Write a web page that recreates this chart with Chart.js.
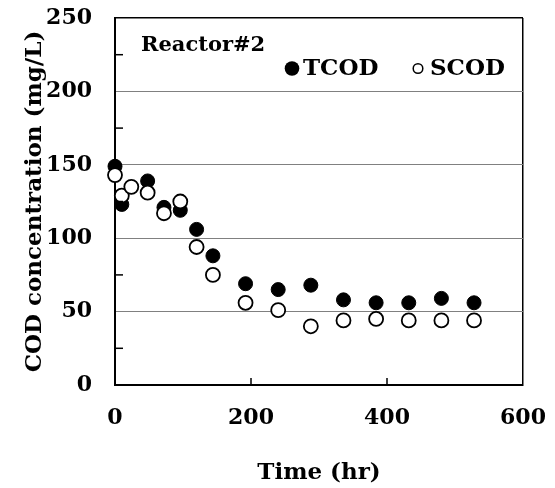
<!DOCTYPE html>
<html>
<head>
<meta charset="utf-8">
<script src="https://cdn.jsdelivr.net/npm/chart.js@4.4.0/dist/chart.umd.min.js"></script>
<style>
html, body { margin: 0; padding: 0; background: #fff; }
</style>
</head>
<body>
<canvas id="myChart" width="555" height="488"></canvas>
<script>
// values
const tcod_time = [0, 10, 48, 72, 96, 120, 144, 192, 240, 288, 336, 384, 432, 480, 528];
const tcod_values = [149, 123, 139, 121, 119, 106, 88, 69, 65, 68, 58, 56, 56, 59, 56];
const scod_time = [0, 10, 24, 48, 72, 96, 120, 144, 192, 240, 288, 336, 384, 432, 480, 528];
const scod_values = [143, 129, 135, 131, 117, 125, 94, 75, 56, 51, 40, 44, 45, 44, 44, 44];
const x_ticks = [0, 200, 400, 600];
const y_ticks = [0, 50, 100, 150, 200, 250];
const y_minor = [25, 75, 125, 175, 225];

const serif = '"DejaVu Serif", "Liberation Serif", serif';

const toPoints = (xs, ys) => xs.map((x, i) => ({ x: x, y: ys[i] }));

// legend, label and inside tick marks
const extras = {
    id: 'extras',
    afterDatasetsDraw(chart) {
        const c = chart.ctx;
        const xs = chart.scales.x;
        const ys = chart.scales.y;
        c.save();
        c.strokeStyle = '#000';
        c.lineWidth = 1.5;
        y_minor.forEach(v => {
            const py = ys.getPixelForValue(v);
            c.beginPath();
            c.moveTo(xs.left, py);
            c.lineTo(xs.left + 8, py);
            c.stroke();
        });
        x_ticks.slice(1, -1).forEach(v => {
            const px = xs.getPixelForValue(v);
            c.beginPath();
            c.moveTo(px, ys.bottom);
            c.lineTo(px, ys.bottom - 7);
            c.stroke();
        });

        c.fillStyle = '#000';
        c.font = 'bold 21px ' + serif;
        c.textBaseline = 'middle';
        c.textAlign = 'left';
        c.fillText('Reactor#2', 141, 46);

        c.font = 'bold 23px ' + serif;
        c.beginPath();
        c.arc(292, 68.5, 7.3, 0, Math.PI * 2);
        c.fill();
        c.fillText('TCOD', 303, 69);

        c.beginPath();
        c.arc(418, 68.5, 4.8, 0, Math.PI * 2);
        c.fillStyle = '#fff';
        c.fill();
        c.lineWidth = 1.5;
        c.stroke();
        c.fillStyle = '#000';
        c.fillText('SCOD', 430, 69);
        c.restore();
    }
};

const ctx = document.getElementById('myChart').getContext('2d');
let myChart = new Chart(ctx, {
    type: 'scatter',
    data: {
        datasets: [
            {
                label: 'TCOD',
                data: toPoints(tcod_time, tcod_values),
                backgroundColor: '#000',
                borderColor: '#000',
                borderWidth: 1,
                pointRadius: 7,
                clip: false,
                order: 2
            },
            {
                label: 'SCOD',
                data: toPoints(scod_time, scod_values),
                backgroundColor: '#fff',
                borderColor: '#000',
                borderWidth: 1.8,
                pointRadius: 7,
                clip: false,
                order: 1
            }
        ]
    },
    options: {
        responsive: false,
        animation: false,
        layout: { padding: { top: 18, right: 32, left: 0, bottom: 0 } },
        plugins: {
            legend: { display: false },
            tooltip: { enabled: false }
        },
        scales: {
            x: {
                type: 'linear',
                min: 0,
                max: 600,
                afterBuildTicks: (scale) => { scale.ticks = x_ticks.map(v => ({ value: v })); },
                afterFit: (scale) => {
                    scale.height = 103;
                    scale.paddingLeft = 0;
                    scale.paddingRight = 0;
                },
                border: { color: '#000', width: 2 },
                grid: {
                    drawTicks: false,
                    lineWidth: 1.5,
                    color: (c) => (c.tick && c.tick.value === 600 ? '#000' : 'rgba(0,0,0,0)')
                },
                ticks: {
                    color: '#000',
                    padding: 20,
                    maxRotation: 0,
                    font: { family: serif, size: 22, weight: 'bold' }
                },
                title: {
                    display: true,
                    text: 'Time (hr)',
                    color: '#000',
                    padding: { top: 0, bottom: 1 },
                    font: { family: serif, size: 23, weight: 'bold' }
                }
            },
            y: {
                min: 0,
                max: 250,
                afterBuildTicks: (scale) => { scale.ticks = y_ticks.map(v => ({ value: v })); },
                afterFit: (scale) => {
                    scale.width = 115;
                    scale.paddingTop = 0;
                    scale.paddingBottom = 0;
                },
                border: { color: '#000', width: 2 },
                grid: {
                    drawTicks: false,
                    lineWidth: (c) => (c.tick && c.tick.value === 250 ? 1.5 : 1),
                    color: (c) => {
                        if (!c.tick || c.tick.value === 0) return 'rgba(0,0,0,0)';
                        return c.tick.value === 250 ? '#000' : '#808080';
                    }
                },
                ticks: {
                    color: '#000',
                    padding: 23,
                    font: { family: serif, size: 22, weight: 'bold' }
                },
                title: {
                    display: true,
                    text: 'COD concentration (mg/L)',
                    color: '#000',
                    padding: { top: 21, bottom: 0 },
                    font: { family: serif, size: 23, weight: 'bold' }
                }
            }
        }
    },
    plugins: [extras]
});
</script>
</body>
</html>
